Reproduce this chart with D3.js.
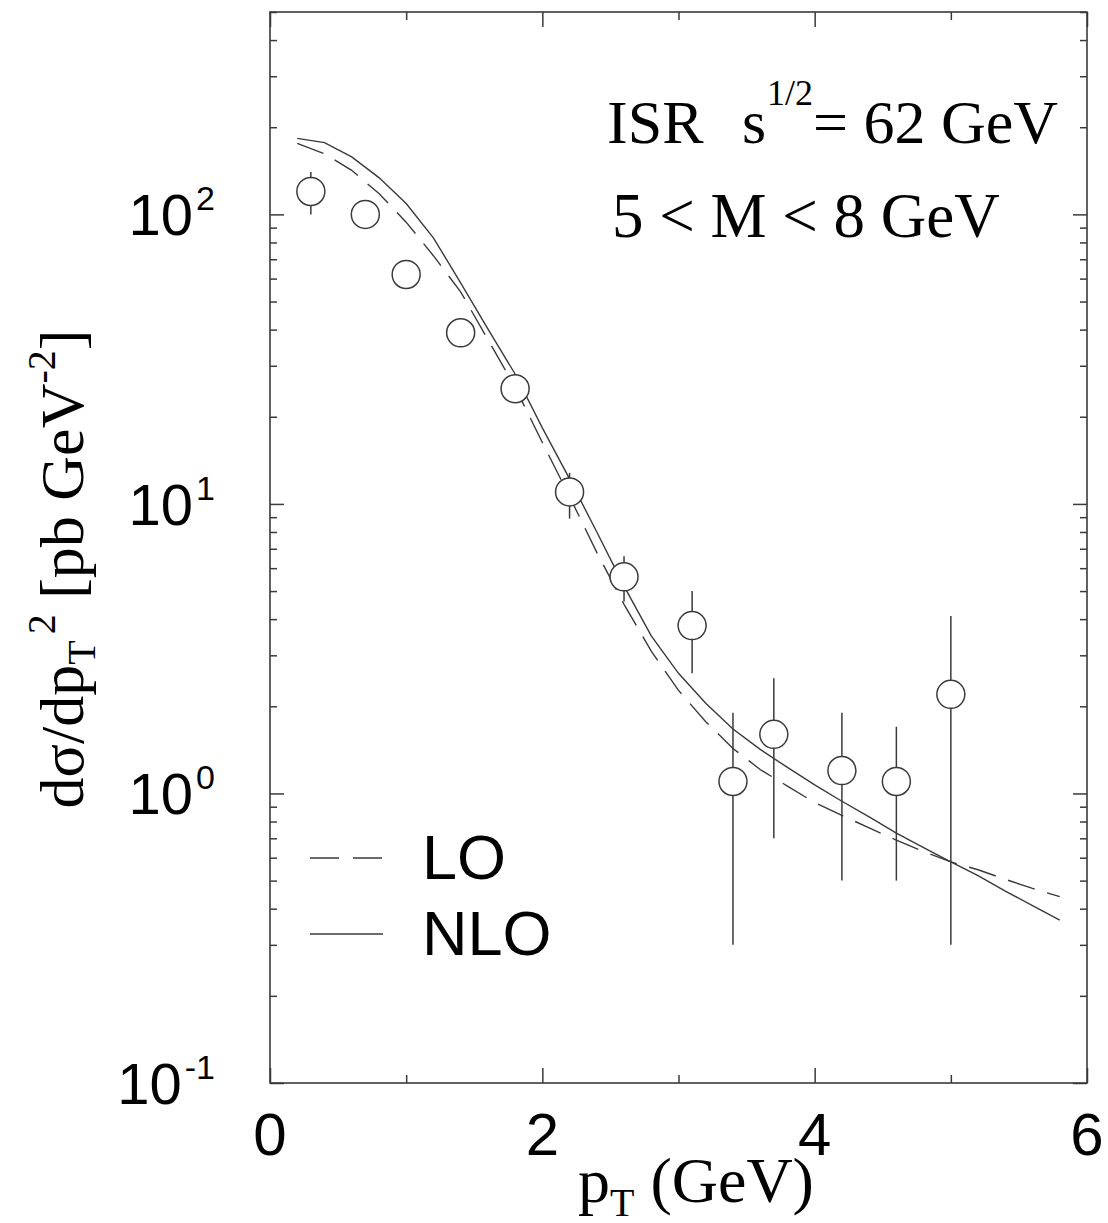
<!DOCTYPE html>
<html>
<head>
<meta charset="utf-8">
<script src="https://cdn.jsdelivr.net/npm/d3@7"></script>
<style>
  body { margin: 0; background: #fff; }
  svg { display: block; }
</style>
</head>
<body>
<svg id="chart"></svg>
<script>
// theory curves, pT grid in GeV
const curvePt = [0.2, 0.4, 0.6, 0.8, 1.0, 1.2, 1.4, 1.6, 1.8, 2.0, 2.2, 2.4, 2.6, 2.8, 3.0,
                 3.2, 3.4, 3.6, 3.8, 4.0, 4.2, 4.4, 4.6, 4.8, 5.0, 5.2, 5.4, 5.6, 5.8];
const nloValues = [183, 177, 158, 134, 109, 83, 58, 40.2, 28.1, 18.3, 12.2, 8.0, 5.2, 3.5, 2.6,
                   2.05, 1.67, 1.42, 1.23, 1.07, 0.94, 0.83, 0.73, 0.65, 0.58, 0.52, 0.46, 0.41, 0.365];
const loValues = [176, 162, 142, 118, 94, 72, 54, 37, 25.3, 16.3, 10.6, 6.8, 4.5, 3.1, 2.27,
                  1.77, 1.43, 1.21, 1.06, 0.93, 0.84, 0.76, 0.69, 0.63, 0.58, 0.545, 0.505, 0.47, 0.44];

// ISR data points
const dataPt   = [0.3, 0.7, 1.0, 1.4, 1.8, 2.2, 2.6, 3.1, 3.4, 3.7, 4.2, 4.6, 5.0];
const dataVal  = [120, 100, 62, 39, 25, 11, 5.6, 3.8, 1.1, 1.6, 1.2, 1.1, 2.2];
const errLow   = [100, 95, 59, 37, 24, 8.9, 4.6, 2.6, 0.3, 0.7, 0.5, 0.5, 0.3];
const errHigh  = [140, 105, 65, 41, 26, 12.8, 6.6, 5.0, 1.9, 2.5, 1.9, 1.7, 4.1];

const xMajor = [0, 2, 4, 6];
const xMinor = [1, 3, 5];
const yExponents = [2, 1, 0, -1];
const legendLabels = ["LO", "NLO"];

const width = 1108, height = 1223;
const margin = {left: 270, right: 21, top: 12, bottom: 140};
const ink = "#3a3a3a";

const svg = d3.select("#chart")
    .attr("width", width)
    .attr("height", height);

const x = d3.scaleLinear().domain([0, 6]).range([margin.left, width - margin.right]);
const y = d3.scaleLog().domain([0.1, 500]).range([height - margin.bottom, margin.top]);

// minor ticks on the log axis: 2..9 in every decade
const yMinor = [];
for (let e = -1; e <= 2; e++) {
    for (let m = 2; m <= 9; m++) {
        const v = m * Math.pow(10, e);
        if (v <= 500) yMinor.push(v);
    }
}
const yMajor = yExponents.map(e => Math.pow(10, e));

const x0 = x.range()[0], x1 = x.range()[1];
const y0 = y.range()[0], y1 = y.range()[1];

// ticks all point inwards, on all four sides
function tickAxis(axisFn, scale, values, size, pos){
    const g = svg.append("g")
        .attr("transform", pos)
        .call(axisFn(scale).tickValues(values).tickSize(-size).tickFormat(""));
    g.select(".domain").remove();
    g.selectAll("line").attr("stroke", ink).attr("stroke-width", 1.5);
    return g;
}
tickAxis(d3.axisBottom, x, xMajor, 15, `translate(0,${y0})`);
tickAxis(d3.axisBottom, x, xMinor, 8, `translate(0,${y0})`);
tickAxis(d3.axisTop, x, xMajor, 15, `translate(0,${y1})`);
tickAxis(d3.axisTop, x, xMinor, 8, `translate(0,${y1})`);
tickAxis(d3.axisLeft, y, yMajor, 14, `translate(${x0},0)`);
tickAxis(d3.axisLeft, y, yMinor, 7, `translate(${x0},0)`);
tickAxis(d3.axisRight, y, yMajor, 14, `translate(${x1},0)`);
tickAxis(d3.axisRight, y, yMinor, 7, `translate(${x1},0)`);

// frame
svg.append("rect")
    .attr("x", x0).attr("y", y1)
    .attr("width", x1 - x0).attr("height", y0 - y1)
    .attr("fill", "none")
    .attr("stroke", ink)
    .attr("stroke-width", 1.6);

// x tick labels
svg.append("g")
    .selectAll("text")
    .data(xMajor)
    .enter()
    .append("text")
    .attr("x", d => x(d))
    .attr("y", y0 + 72)
    .attr("text-anchor", "middle")
    .attr("font-family", "Liberation Sans, Arial, sans-serif")
    .attr("font-size", 60)
    .text(d => d);

// y tick labels 10^n
const yLab = svg.append("g")
    .selectAll("text")
    .data(yExponents)
    .enter()
    .append("text")
    .attr("x", 215)
    .attr("y", d => y(Math.pow(10, d)) + 21)
    .attr("text-anchor", "end")
    .attr("font-family", "Liberation Sans, Arial, sans-serif")
    .attr("font-size", 58);
yLab.append("tspan").text("10");
yLab.append("tspan")
    .attr("font-size", 34)
    .attr("dy", -25)
    .attr("dx", 3)
    .text(d => d);

// theory curves
const line = d3.line().x(d => x(d[0])).y(d => y(d[1]));

svg.append("path")
    .datum(curvePt.map((p, i) => [p, loValues[i]]))
    .attr("d", line)
    .attr("fill", "none")
    .attr("stroke", ink)
    .attr("stroke-width", 1.4)
    .attr("stroke-dasharray", "28,13");

svg.append("path")
    .datum(curvePt.map((p, i) => [p, nloValues[i]]))
    .attr("d", line)
    .attr("fill", "none")
    .attr("stroke", ink)
    .attr("stroke-width", 1.4);

// error bars, then open circles on top
const points = dataPt.map((p, i) => ({pt: p, val: dataVal[i], lo: errLow[i], hi: errHigh[i]}));

svg.append("g")
    .selectAll("line")
    .data(points)
    .enter()
    .append("line")
    .attr("x1", d => x(d.pt)).attr("x2", d => x(d.pt))
    .attr("y1", d => y(d.lo)).attr("y2", d => y(d.hi))
    .attr("stroke", ink)
    .attr("stroke-width", 1.5);

svg.append("g")
    .selectAll("circle")
    .data(points)
    .enter()
    .append("circle")
    .attr("cx", d => x(d.pt))
    .attr("cy", d => y(d.val))
    .attr("r", 14)
    .attr("fill", "#fff")
    .attr("stroke", ink)
    .attr("stroke-width", 1.5);

// legend
const legend = svg.append("g");
legendLabels.forEach((label, i) => {
    const ly = 858 + i * 76;
    legend.append("line")
        .attr("x1", 310).attr("x2", 383)
        .attr("y1", ly).attr("y2", ly)
        .attr("stroke", ink)
        .attr("stroke-width", 1.4)
        .attr("stroke-dasharray", i === 0 ? "29,14" : null);
    legend.append("text")
        .attr("x", 422)
        .attr("y", ly + 21)
        .attr("font-family", "Liberation Sans, Arial, sans-serif")
        .attr("font-size", 63)
        .text(label);
});

// annotation
const serif = "Liberation Serif, Times New Roman, serif";
const note = svg.append("g").attr("font-family", serif).attr("font-size", 62);
note.append("text").attr("x", 607).attr("y", 143).text("ISR");
note.append("text").attr("x", 742).attr("y", 143).text("s");
note.append("text").attr("x", 767).attr("y", 105).attr("font-size", 36).text("1/2");
note.append("text").attr("x", 813).attr("y", 143).text("= 62 GeV");
note.append("text").attr("x", 612).attr("y", 237).attr("font-size", 63).text("5 < M < 8 GeV");

// x axis title
const xt = svg.append("text")
    .attr("x", 578)
    .attr("y", 1202)
    .attr("font-family", serif)
    .attr("font-size", 64);
xt.append("tspan").text("p");
xt.append("tspan").attr("font-size", 40).attr("dy", 14).text("T");
xt.append("tspan").attr("dy", -14).text(" (GeV)");

// y axis title
const yt = svg.append("text")
    .attr("transform", "translate(83,569) rotate(-90)")
    .attr("text-anchor", "middle")
    .attr("font-family", serif)
    .attr("font-size", 62);
yt.append("tspan").text("dσ/dp");
yt.append("tspan").attr("font-size", 40).attr("dy", 12).text("T");
yt.append("tspan").attr("font-size", 40).attr("dy", -40).attr("dx", 6).text("2");
yt.append("tspan").attr("dy", 28).text(" [pb GeV");
yt.append("tspan").attr("font-size", 40).attr("dy", -28).text("-2");
yt.append("tspan").attr("dy", 28).text("]");
</script>
</body>
</html>
